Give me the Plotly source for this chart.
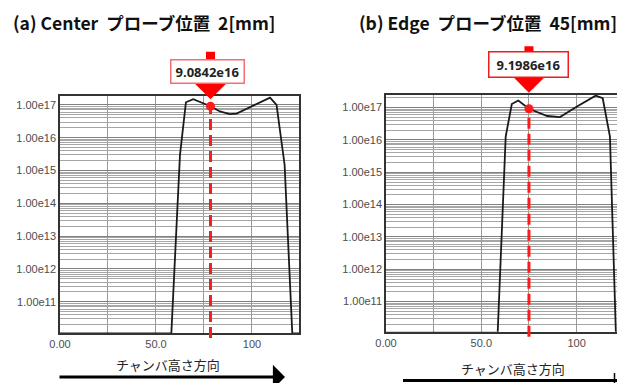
import math
import plotly.graph_objects as go

# ---------------- data ----------------
x_center = [0, 58.0, 62.5, 65.6, 69.4, 78.4, 83.3, 88.5, 92.0, 100.6, 109.4, 112.8, 117.0, 121.0, 124.5]
y_center = [1.1e10, 1.1e10, 3.0e15, 1.2e17, 1.48e17, 9.0842e16, 6.3e16, 5.2e16, 5.4e16,
            9.5e16, 1.66e17, 1.0e17, 1.5e15, 1.1e10, 1.1e10]

x_edge = [0, 58.6, 62.8, 66.0, 69.4, 75.0, 84.6, 91.3, 100.0, 106.1, 110.0, 113.7, 117.5, 120.6, 121.2]
y_edge = [1.1e10, 1.1e10, 1.26e16, 1.29e17, 1.66e17, 9.1986e16, 5.5e16, 5.1e16, 1.07e17,
          1.74e17, 2.35e17, 1.95e17, 1.26e16, 1.1e10, 1.1e10]

probe_x = [78.4, 75.0]
probe_val = [9.0842e16, 9.1986e16]
probe_label = ["9.0842e16", "9.1986e16"]

titles = ["(a) Center  プローブ位置  2[mm]", "(b) Edge  プローブ位置  45[mm]"]
axis_caption = "チャンバ高さ方向"

y_tickvals = [1e11, 1e12, 1e13, 1e14, 1e15, 1e16, 1e17]
y_ticktext = ["1.00e11", "1.00e12", "1.00e13", "1.00e14", "1.00e15", "1.00e16", "1.00e17"]
x_tickvals = [0, 50, 100]
x_ticktext = ["0.00", "50.0", "100"]

# ---------------- figure ----------------
W, H = 617, 383
fig = go.Figure()

fig.add_trace(go.Scatter(x=x_center, y=y_center, mode="lines",
                         line=dict(color="#1a1a1a", width=1.8), xaxis="x", yaxis="y",
                         showlegend=False, hoverinfo="skip"))
fig.add_trace(go.Scatter(x=x_edge, y=y_edge, mode="lines",
                         line=dict(color="#1a1a1a", width=1.8), xaxis="x2", yaxis="y2",
                         showlegend=False, hoverinfo="skip"))
fig.add_trace(go.Scatter(x=[probe_x[0]], y=[probe_val[0]], mode="markers",
                         marker=dict(color="#ff1a1a", size=9), xaxis="x", yaxis="y",
                         showlegend=False, hoverinfo="skip", cliponaxis=False))
fig.add_trace(go.Scatter(x=[probe_x[1]], y=[probe_val[1]], mode="markers",
                         marker=dict(color="#ff1a1a", size=9), xaxis="x2", yaxis="y2",
                         showlegend=False, hoverinfo="skip", cliponaxis=False))

grid_col = "#999999"
tick_font = dict(family="Liberation Sans, Arial, sans-serif", size=11, color="#4d4d4d")

def xaxis_cfg(rng, dom, anchor):
    return dict(domain=dom, range=rng, tickvals=x_tickvals, ticktext=x_ticktext,
                showgrid=True, gridcolor=grid_col, gridwidth=1,
                minor=dict(dtick=25, tick0=0, showgrid=True, gridcolor=grid_col, gridwidth=1),
                showline=True, linecolor="#333333", linewidth=1.5, mirror=True,
                ticks="", tickfont=tick_font, zeroline=False, fixedrange=True,
                automargin=False, anchor=anchor)

def yaxis_cfg(rng, dom, anchor):
    return dict(domain=dom, type="log", range=rng, tickvals=y_tickvals, ticktext=y_ticktext,
                showgrid=True, gridcolor="#808080", gridwidth=1,
                minor=dict(dtick="D1", showgrid=True, gridcolor="#a6a6a6", gridwidth=1),
                showline=True, linecolor="#333333", linewidth=1.5, mirror=True,
                ticks="", tickfont=tick_font, zeroline=False, anchor=anchor, fixedrange=True,
                automargin=False)

yr1 = [10.05, 17.27]
yr2 = [10.07, 17.39]
ydom1 = [(H - 333) / H, (H - 96) / H]
ydom2 = [(H - 331.7) / H, (H - 95) / H]

fig.update_layout(
    template="none",
    width=W, height=H,
    margin=dict(l=0, r=0, t=0, b=0, pad=0, autoexpand=False),
    paper_bgcolor="white", plot_bgcolor="white",
    xaxis=xaxis_cfg([0, 124.5], [60 / W, 299 / W], "y"),
    yaxis=yaxis_cfg(yr1, ydom1, "x"),
    xaxis2=xaxis_cfg([0, 121.2], [386 / W, 1.0], "y2"),
    yaxis2=yaxis_cfg(yr2, ydom2, "x2"),
)

# dashed probe lines (from below the axis up to the probe value)
for i, (xr, yr, dom) in enumerate([("x", yr1, ydom1), ("x2", yr2, ydom2)]):
    frac = (math.log10(probe_val[i]) - yr[0]) / (yr[1] - yr[0])
    bottom_px = 5  # extends below the axis
    dom_h = (dom[1] - dom[0]) * H
    fig.add_shape(type="line", xref=xr, yref=("y" if i == 0 else "y2") + " domain",
                  x0=probe_x[i], x1=probe_x[i], y0=-bottom_px / dom_h, y1=frac,
                  line=dict(color="#ff1a1a", width=3, dash="11px,5px"), layer="above")

# right-hand direction arrow (its head falls outside the picture)
fig.add_shape(type="line", xref="paper", yref="paper",
              x0=403 / W, x1=1.0, y0=(H - 380.5) / H, y1=(H - 380.5) / H,
              line=dict(color="#000000", width=3))
fig.add_shape(type="line", xref="paper", yref="paper",
              x0=614.5 / W, x1=614.5 / W, y0=(H - 373) / H, y1=0,
              line=dict(color="#000000", width=1.5))

ann = []
# big red arrows
arrow_specs = [dict(ay=-56, standoff=7, xr="x", yr="y"),
               dict(ay=-64, standoff=16, xr="x2", yr="y2")]
for i, s in enumerate(arrow_specs):
    ann.append(dict(x=probe_x[i], y=math.log10(probe_val[i]), xref=s["xr"], yref=s["yr"],
                    text="", showarrow=True, ax=0, ay=s["ay"], axref="pixel", ayref="pixel",
                    arrowcolor="#ff0000", arrowwidth=9, arrowhead=1, arrowsize=0.78,
                    standoff=s["standoff"]))
# value boxes
box_specs = [dict(xshift=-3, yshift=34.5, border="#f07070", w=70, h=20, xr="x", yr="y"),
             dict(xshift=0, yshift=44.6, border="#ee1c1c", w=76, h=22, xr="x2", yr="y2")]
for i, s in enumerate(box_specs):
    ann.append(dict(x=probe_x[i], y=math.log10(probe_val[i]), xref=s["xr"], yref=s["yr"],
                    text="<b>" + probe_label[i] + "</b>", showarrow=False,
                    xshift=s["xshift"], yshift=s["yshift"],
                    font=dict(family="Open Sans, Noto Sans, sans-serif", size=13, color="#222222"),
                    bgcolor="white", bordercolor=s["border"], borderwidth=1.5,
                    width=s["w"], height=s["h"], borderpad=1))
# titles
ann.append(dict(x=144 / W, y=(H - 23) / H, xref="paper", yref="paper", showarrow=False,
                text="<b>" + titles[0] + "</b>", xanchor="center", yanchor="middle",
                font=dict(family="Noto Sans CJK JP, sans-serif", size=17.5, color="#111111")))
ann.append(dict(x=487.5 / W, y=(H - 23) / H, xref="paper", yref="paper", showarrow=False,
                text="<b>" + titles[1] + "</b>", xanchor="center", yanchor="middle",
                font=dict(family="Noto Sans CJK JP, sans-serif", size=17.5, color="#111111")))
# bottom captions
ann.append(dict(x=168 / W, y=(H - 364) / H, xref="paper", yref="paper", showarrow=False,
                text=axis_caption, xanchor="center", yanchor="middle",
                font=dict(family="Noto Sans CJK JP, sans-serif", size=13, color="#222222")))
ann.append(dict(x=512.5 / W, y=(H - 368.5) / H, xref="paper", yref="paper", showarrow=False,
                text=axis_caption, xanchor="center", yanchor="middle",
                font=dict(family="Noto Sans CJK JP, sans-serif", size=13, color="#222222")))
# left direction arrow
ann.append(dict(x=285 / W, y=(H - 377) / H, xref="paper", yref="paper", text="",
                showarrow=True, ax=-227, ay=0, arrowcolor="#000000", arrowwidth=3,
                arrowhead=1, arrowsize=1.35))

fig.update_layout(annotations=ann)
fig.write_html("out.html", config={"displayModeBar": False},
               post_script="document.body.style.margin='0';document.body.style.overflow='hidden';")
